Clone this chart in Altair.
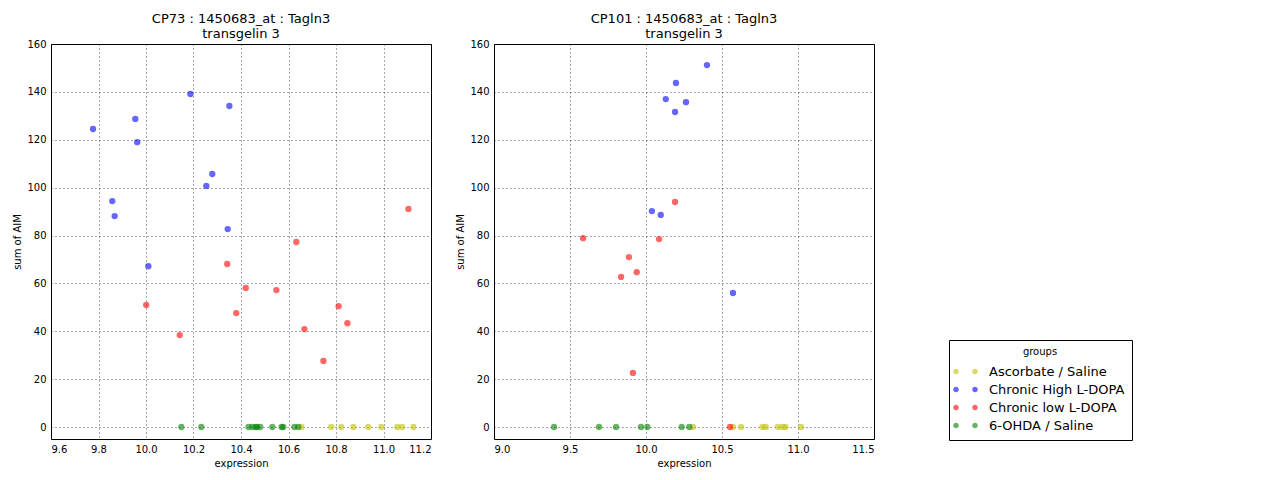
import altair as alt
import pandas as pd

groups = ["Ascorbate / Saline", "Chronic High L-DOPA", "Chronic low L-DOPA", "6-OHDA / Saline"]
colors = ["#bfbf00", "#0000ff", "#ff0000", "#008000"]

# CP73 panel
cp73_asc_x = [10.655, 10.780, 10.822, 10.873, 10.936, 10.991, 11.058, 11.079, 11.126]
cp73_asc_y = [0, 0, 0, 0, 0, 0, 0, 0, 0]
cp73_high_x = [9.777, 9.955, 9.963, 10.187, 10.351, 10.279, 10.254, 9.858, 9.868, 10.344, 10.010]
cp73_high_y = [124.5, 128.7, 119.0, 139.1, 134.1, 105.7, 100.7, 94.4, 88.1, 82.7, 67.2]
cp73_low_x = [11.105, 10.633, 10.342, 10.420, 10.549, 10.001, 10.380, 10.811, 10.848, 10.667, 10.142, 10.747]
cp73_low_y = [91.1, 77.3, 68.1, 58.1, 57.2, 51.0, 47.6, 50.5, 43.4, 40.9, 38.4, 27.6]
cp73_ohda_x = [10.149, 10.233, 10.432, 10.448, 10.462, 10.467, 10.481, 10.532, 10.571, 10.578, 10.625, 10.641]
cp73_ohda_y = [0, 0, 0, 0, 0, 0, 0, 0, 0, 0, 0, 0]

# CP101 panel
cp101_asc_x = [10.309, 10.572, 10.625, 10.766, 10.788, 10.868, 10.899, 10.917, 11.020]
cp101_asc_y = [0, 0, 0, 0, 0, 0, 0, 0, 0]
cp101_high_x = [10.401, 10.197, 10.130, 10.263, 10.191, 10.039, 10.097, 10.572]
cp101_high_y = [151.2, 143.7, 137.0, 135.7, 131.6, 90.2, 88.6, 56.0]
cp101_low_x = [10.191, 9.586, 10.086, 9.888, 9.939, 9.836, 9.914, 10.553]
cp101_low_y = [94.0, 78.9, 78.5, 71.0, 64.7, 62.7, 22.6, 0]
cp101_ohda_x = [9.395, 9.691, 9.803, 9.967, 10.009, 10.235, 10.285]
cp101_ohda_y = [0, 0, 0, 0, 0, 0, 0]

x_ticks_73 = [9.6, 9.8, 10.0, 10.2, 10.4, 10.6, 10.8, 11.0, 11.2]
x_ticks_101 = [9.0, 9.5, 10.0, 10.5, 11.0, 11.5]
y_ticks = [0, 20, 40, 60, 80, 100, 120, 140, 160]


def frame(series):
    rows = []
    for g, xs, ys in series:
        for x, y in zip(xs, ys):
            rows.append({"expression": x, "aim": y, "group": g})
    return pd.DataFrame(rows)


df73 = frame([
    (groups[0], cp73_asc_x, cp73_asc_y),
    (groups[1], cp73_high_x, cp73_high_y),
    (groups[2], cp73_low_x, cp73_low_y),
    (groups[3], cp73_ohda_x, cp73_ohda_y),
])
df101 = frame([
    (groups[0], cp101_asc_x, cp101_asc_y),
    (groups[1], cp101_high_x, cp101_high_y),
    (groups[2], cp101_low_x, cp101_low_y),
    (groups[3], cp101_ohda_x, cp101_ohda_y),
])

two_dots = ("M -1.295 0 A 0.295 0.295 0 1 0 -0.705 0 A 0.295 0.295 0 1 0 -1.295 0 Z "
            "M 0.705 0 A 0.295 0.295 0 1 0 1.295 0 A 0.295 0.295 0 1 0 0.705 0 Z")

color = alt.Color(
    "group:N",
    scale=alt.Scale(domain=groups, range=colors),
    legend=alt.Legend(
        title="groups", orient="none", legendX=898, legendY=296,
        titleAnchor="middle", titleFontSize=10, titleFontWeight="normal",
        symbolType=two_dots, symbolSize=361, symbolOpacity=0.6, symbolStrokeWidth=0,
        labelFontSize=13, labelOffset=14, rowPadding=1, padding=7,
        strokeColor="black", fillColor="white",
    ),
)


def panel(df, title, xdom, xticks):
    return alt.Chart(df).mark_circle(size=40, opacity=0.6).encode(
        x=alt.X("expression:Q", title="expression",
                scale=alt.Scale(domain=xdom, nice=False, zero=False),
                axis=alt.Axis(values=xticks, format=".1f")),
        y=alt.Y("aim:Q", title="sum of AIM",
                scale=alt.Scale(domain=[-5, 160], nice=False, zero=False),
                axis=alt.Axis(values=y_ticks)),
        color=color,
    ).properties(
        width=380, height=395,
        title=alt.TitleParams(title, fontSize=13, fontWeight="normal", anchor="middle",
                              lineHeight=15, offset=-2),
    )


left = panel(df73, ["CP73 : 1450683_at : Tagln3", "transgelin 3"], [9.6, 11.2], x_ticks_73)
right = panel(df101, ["CP101 : 1450683_at : Tagln3", "transgelin 3"], [9.0, 11.5], x_ticks_101)

chart = alt.hconcat(left, right, spacing=23).properties(
    padding={"left": 4, "top": 4, "right": 5, "bottom": 5}
).configure(
    font="DejaVu Sans",
).configure_axis(
    labelFontSize=10, titleFontSize=10, titleFontWeight="normal",
    labelColor="black", titleColor="black",
    ticks=False, domain=False, labelPadding=5,
    gridColor="black", gridDash=[1, 3], gridOpacity=0.7, gridWidth=1,
).configure_view(
    stroke="black", strokeWidth=1,
).configure_title(
    color="black",
).configure_legend(
    labelColor="black", titleColor="black",
)

chart.save("out.html", embed_options={"renderer": "svg", "actions": False})
